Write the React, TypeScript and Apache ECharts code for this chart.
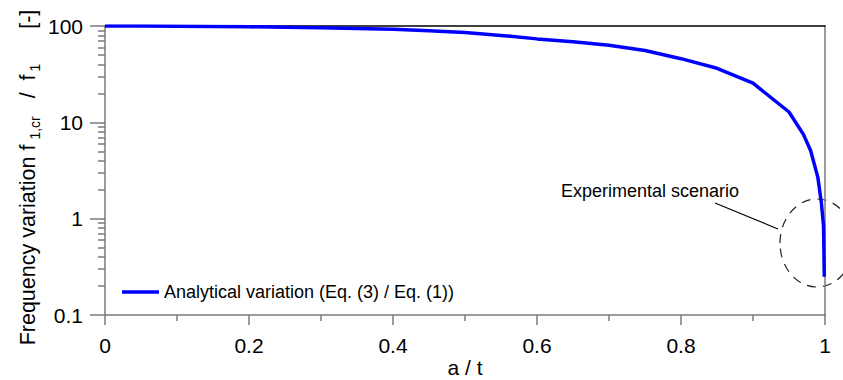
import React, { useEffect, useRef } from "react";
import * as echarts from "echarts";

const ratioA = [0, 0.05, 0.1, 0.15, 0.2, 0.25, 0.3, 0.35, 0.4, 0.45, 0.5, 0.55, 0.6, 0.65, 0.7, 0.75, 0.8, 0.85, 0.9, 0.95, 0.97, 0.98, 0.99, 0.995, 0.998, 0.999];
const freqVar = [100, 99.8, 99.4, 98.8, 98.1, 97.2, 96.0, 94.4, 92.4, 89.2, 85.5, 79.8, 73.5, 68.5, 63.0, 55.7, 45.8, 36.4, 25.5, 12.8, 7.5, 5.1, 2.7, 1.45, 0.83, 0.25];
const yMajor = [0.1, 1, 10, 100];
const yMinorMultipliers = [2, 3, 4, 5, 6, 7, 8, 9];
const seriesName = "Analytical variation (Eq. (3) / Eq. (1))";
const noteText = "Experimental scenario";

const FONT = "Arial, 'Liberation Sans', sans-serif";
const AXIS_GRAY = "#7a7a7a";

export default function App() {
  const ref = useRef<HTMLDivElement>(null);
  useEffect(() => {
    if (!ref.current) return;
    const chart = echarts.init(ref.current, null, { renderer: "svg" });
    const minorLog: number[] = [];
    for (let d = 0; d < yMajor.length - 1; d++) {
      for (const m of yMinorMultipliers) minorLog.push(Math.log10(yMajor[d] * m));
    }
    const data = ratioA.map((x, i) => [x, freqVar[i]]);
    chart.setOption({
      animation: false,
      backgroundColor: "#fff",
      textStyle: { fontFamily: FONT },
      grid: { left: 105, right: 18, top: 26, bottom: 65, containLabel: false, outerBoundsMode: "none" },
      legend: {
        left: 117,
        top: 278,
        icon: "rect",
        itemWidth: 37,
        itemHeight: 3.5,
        itemGap: 8,
        textStyle: { fontSize: 18, color: "#000", fontFamily: FONT },
        data: [seriesName],
      },
      xAxis: [
        {
          type: "value",
          min: 0,
          max: 1,
          interval: 0.2,
          name: "a / t",
          nameLocation: "middle",
          nameGap: 41,
          nameMoveOverlap: false,
          nameTextStyle: { fontSize: 21, color: "#000", fontFamily: FONT, lineHeight: 22 },
          axisLine: { show: true, onZero: false, lineStyle: { color: AXIS_GRAY, width: 1.5 } },
          axisTick: { show: true, length: 10, lineStyle: { color: AXIS_GRAY, width: 1.5 } },
          minorTick: { show: true, splitNumber: 2, length: 6, lineStyle: { color: AXIS_GRAY, width: 1.5 } },
          axisLabel: { fontSize: 21, color: "#000", margin: 20, fontFamily: FONT },
          splitLine: { show: false },
          minorSplitLine: { show: false },
        },
        {
          type: "value",
          position: "top",
          min: 0,
          max: 1,
          axisLine: { show: true, onZero: false, lineStyle: { color: "#000", width: 1.5 } },
          axisTick: { show: false },
          axisLabel: { show: false },
          splitLine: { show: false },
        },
      ],
      yAxis: [
        {
          type: "log",
          logBase: 10,
          min: 0.1,
          max: 100,
          position: "left",
          name: "{a|Frequency variation f}{s|1,cr}{a| /  f}{t|1}{a|     [-]}",
          nameLocation: "middle",
          nameRotate: 90,
          nameGap: 63,
          nameMoveOverlap: false,
          nameTextStyle: {
            padding: [0, 14, 0, 0],
            rich: {
              a: { fontSize: 21.5, color: "#000", fontFamily: FONT, lineHeight: 28, verticalAlign: "middle" },
              s: { fontSize: 14, color: "#000", fontFamily: FONT, lineHeight: 14, verticalAlign: "bottom", padding: [0, 12, 0, 5] },
              t: { fontSize: 14, color: "#000", fontFamily: FONT, lineHeight: 14, verticalAlign: "bottom", padding: [0, 5, 0, 3] },
            },
          },
          axisLine: { show: true, onZero: false, lineStyle: { color: AXIS_GRAY, width: 1.5 } },
          axisTick: { show: true, length: 15, lineStyle: { color: AXIS_GRAY, width: 1.5 } },
          axisLabel: {
            fontSize: 21,
            color: "#000",
            margin: 22,
            fontFamily: FONT,
            formatter: (v: number) => String(v),
          },
          splitLine: { show: false },
        },
        {
          type: "value",
          min: -1,
          max: 2,
          position: "left",
          axisLine: { show: false, onZero: false },
          axisTick: { show: true, length: 7, customValues: minorLog, lineStyle: { color: AXIS_GRAY, width: 1.5 } },
          axisLabel: { show: false },
          splitLine: { show: false },
        },
        {
          type: "value",
          min: -1,
          max: 2,
          position: "right",
          axisLine: { show: true, onZero: false, lineStyle: { color: AXIS_GRAY, width: 1.5 } },
          axisTick: { show: false },
          axisLabel: { show: false },
          splitLine: { show: false },
        },
      ],
      series: [
        {
          name: seriesName,
          type: "line",
          xAxisIndex: 0,
          yAxisIndex: 0,
          data,
          showSymbol: false,
          symbol: "none",
          lineStyle: { color: "#0000ff", width: 3.5 },
          itemStyle: { color: "#0000ff" },
          z: 3,
        },
      ],
      graphic: [
        {
          type: "text",
          left: 561,
          top: 182,
          style: { text: noteText, fontSize: 18, fill: "#000", fontFamily: FONT },
        },
        {
          type: "line",
          shape: { x1: 715, y1: 203, x2: 778, y2: 229 },
          style: { stroke: "#000", lineWidth: 1.2 },
        },
        {
          type: "ellipse",
          shape: { cx: 817, cy: 243, rx: 37, ry: 44 },
          style: { fill: "none", stroke: "#222", lineWidth: 1.2, lineDash: [9, 7] },
        },
      ],
    });
    return () => chart.dispose();
  }, []);
  return <div ref={ref} style={{ width: 843, height: 380, position: "absolute", left: 0, top: 0 }} />;
}
